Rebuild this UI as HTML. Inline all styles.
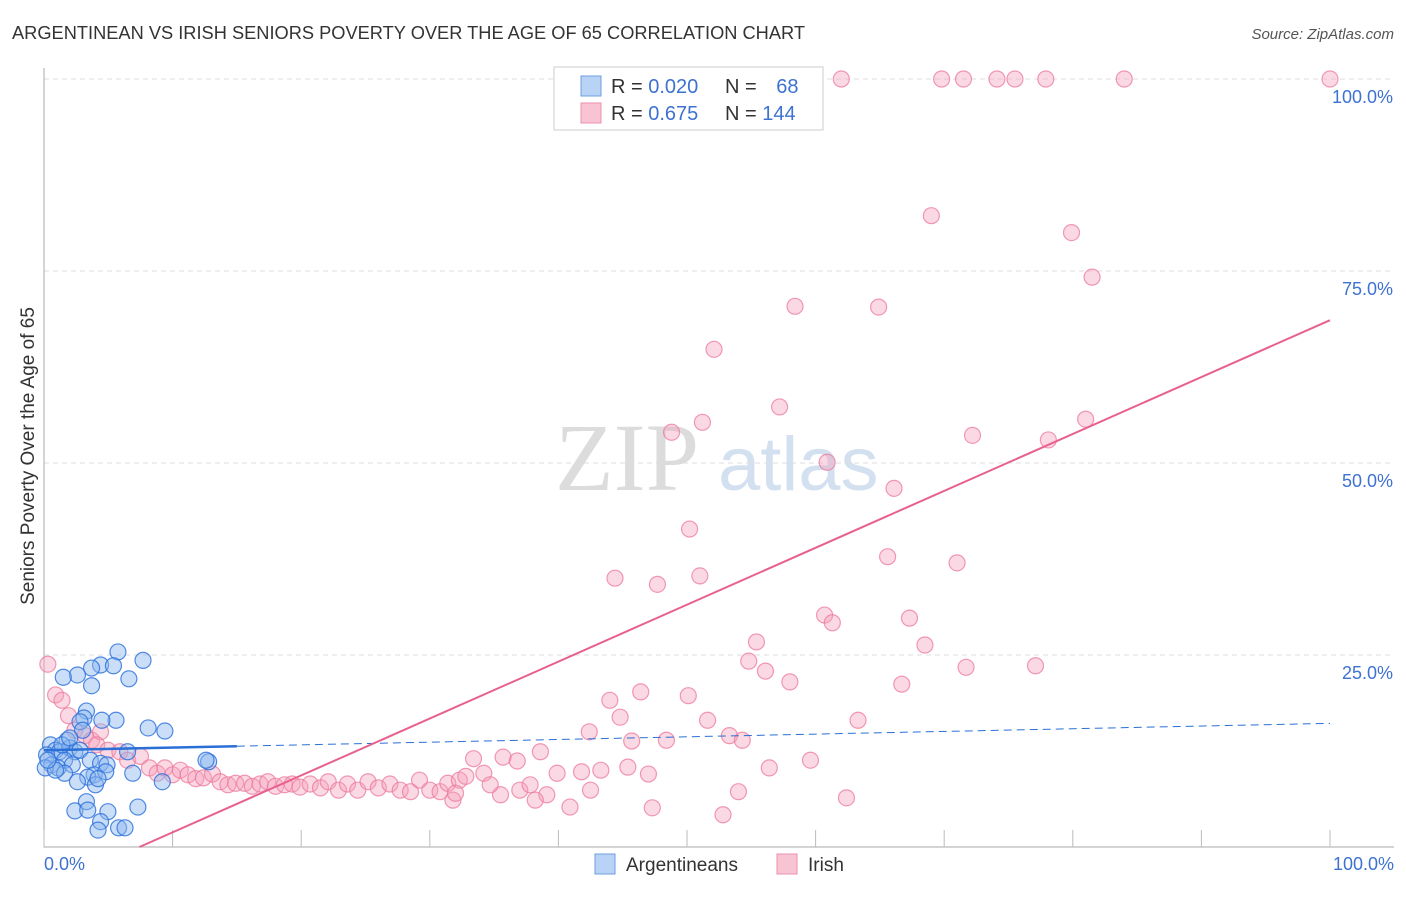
<!DOCTYPE html>
<html><head><meta charset="utf-8"><style>
body{margin:0;background:#fff;font-family:"Liberation Sans",sans-serif;}
</style></head><body>
<svg width="1406" height="892" viewBox="0 0 1406 892" xmlns="http://www.w3.org/2000/svg" font-family="Liberation Sans, sans-serif">
<text x="12" y="39" font-size="18" fill="#333" textLength="793" lengthAdjust="spacingAndGlyphs">ARGENTINEAN VS IRISH SENIORS POVERTY OVER THE AGE OF 65 CORRELATION CHART</text>
<text x="1394" y="39" font-size="15" fill="#555" font-style="italic" text-anchor="end">Source: ZipAtlas.com</text>
<text x="555" y="490" font-size="96" fill="#dcdcdc" font-family="Liberation Serif, serif">ZIP</text>
<text x="718" y="490" font-size="76" fill="#d3e0f0">atlas</text>
<g id="grid"></g><g id="axes"></g><g id="pts"></g><g id="lines"></g>
<text transform="translate(34,456) rotate(-90)" font-size="19" fill="#333" text-anchor="middle">Seniors Poverty Over the Age of 65</text>
<g>
<rect x="554" y="67" width="269" height="63" fill="#fff" stroke="#ccc"/>
<rect x="581" y="76" width="20" height="20" fill="#b8d3f5" stroke="#6d9fe0"/>
<rect x="581" y="103" width="20" height="20" fill="#f8c4d4" stroke="#ec8fab"/>
<text x="611" y="93" font-size="20" fill="#333">R = <tspan fill="#3d72d1">0.020</tspan></text>
<text x="725" y="93" font-size="20" fill="#333">N = <tspan fill="#3d72d1" dx="14">68</tspan></text>
<text x="611" y="120" font-size="20" fill="#333">R = <tspan fill="#3d72d1">0.675</tspan></text>
<text x="725" y="120" font-size="20" fill="#333">N = <tspan fill="#3d72d1">144</tspan></text>
</g>
<g>
<rect x="595" y="854" width="20" height="20" fill="#b8d3f5" stroke="#6d9fe0"/>
<text x="626" y="871" font-size="19" fill="#333">Argentineans</text>
<rect x="777" y="854" width="20" height="20" fill="#f8c4d4" stroke="#ec8fab"/>
<text x="808" y="871" font-size="19" fill="#333">Irish</text>
</g>
</svg>
<script>
const yTicks=[25,50,75,100];
const yTickLabels=["25.0%","50.0%","75.0%","100.0%"];
const blueX=[5.75,7.7,4.4,5.4,3.7,2.6,1.5,6.6,3.7,3.3,3.1,5.6,4.5,2.8,8.1,9.4,3.0,1.8,0.5,0.9,1.2,0.2,2.0,2.4,2.8,1.6,0.6,1.1,0.1,2.2,3.6,4.4,6.5,4.9,12.8,12.6,1.6,3.9,6.9,4.8,3.4,4.0,9.2,2.6,4.2,3.3,7.3,2.4,3.4,4.97,4.4,4.2,5.8,6.3,0.9,0.3,1.4,2.0];
const blueY=[25.4,24.3,23.7,23.6,23.3,22.4,22.1,21.9,21.0,17.7,16.8,16.5,16.5,16.3,15.5,15.1,15.2,13.9,13.3,12.6,12.4,12.0,12.9,12.4,12.6,11.3,10.7,10.3,10.3,10.7,11.3,10.9,12.4,10.7,11.1,11.3,9.6,9.4,9.6,9.8,9.1,8.1,8.5,8.5,8.9,5.9,5.2,4.7,4.8,4.6,3.3,2.2,2.5,2.5,10.0,11.3,13.3,14.2];
const pinkX=[62,69.8,71.5,74.1,75.5,77.9,84,100,69,79.9,81.5,58.4,64.9,52.1,57.2,51.2,48.8,72.2,81,78.1,60.9,66.1,50.2,65.6,71,44.4,51,47.7,60.7,61.3,67.3,55.4,68.5,54.8,56.1,71.7,77.1,58,66.7,46.4,50.1,44,44.8,63.3,51.6,48.4,45.7,42.4,53.3,54.3,38.6,33.4,35.7,36.8,59.6,56.4,45.4,43.3,47,39.9,41.8,54,47.3,52.8,62.4,40.9,42.5,39.1,38.2,31.8,35.5,
0.3,0.9,1.4,1.9,2.4,3.2,3.7,4.4,4.1,4.97,5.9,6.5,7.5,8.2,8.8,9.4,10,10.6,11.2,11.8,12.4,13.1,13.7,14.3,14.9,15.6,16.2,16.8,17.4,18.0,18.7,19.3,19.9,20.7,21.5,22.1,22.9,23.6,24.4,25.2,26.0,26.9,27.7,28.5,29.2,30.0,30.8,31.4,32.3,32.8,34.2,34.7,37,37.8,32];
const pinkY=[100,100,100,100,100,100,100,100,82.2,80,74.2,70.4,70.3,64.8,57.3,55.3,54.0,53.6,55.7,53.0,50.1,46.7,41.4,37.8,37.0,35.0,35.3,34.2,30.2,29.2,29.8,26.7,26.3,24.2,22.9,23.4,23.6,21.5,21.2,20.2,19.7,19.1,16.9,16.5,16.5,13.9,13.8,15.0,14.5,13.9,12.4,11.5,11.7,11.2,11.3,10.3,10.4,10.0,9.5,9.6,9.8,7.2,5.1,4.2,6.4,5.2,7.4,6.8,6.1,6.1,6.8,
23.8,19.8,19.1,17.1,15.2,14.5,13.9,15.0,13.3,12.6,12.4,11.3,11.8,10.3,9.6,10.3,9.4,10.0,9.4,8.9,9.0,9.5,8.5,8.1,8.3,8.3,7.9,8.2,8.5,7.9,8.1,8.2,7.8,8.2,7.7,8.5,7.4,8.2,7.4,8.5,7.7,8.2,7.4,7.2,8.7,7.4,7.2,8.3,8.7,9.2,9.6,8.1,7.4,8.1,7.0];
const blueTrend=[12.6,16.1];
const pinkTrend=[-5.5,68.6];
const X=v=>44+v*12.86, Y=v=>847-v*7.68;
const NS="http://www.w3.org/2000/svg";
function mk(par,tag,at){const e=document.createElementNS(NS,tag);for(const k in at)e.setAttribute(k,at[k]);document.getElementById(par).appendChild(e);return e;}
yTicks.forEach((t,i)=>{
 const g=mk('grid','line',{x1:44,x2:1394,y1:Y(t),y2:Y(t),stroke:'#ddd','stroke-dasharray':'5,4'});
 
 
 const l=mk('axes','text',{x:1393,y:Y(t)+24,'font-size':18,fill:'#3d72d1','text-anchor':'end'});
 l.textContent=yTickLabels[i];
 
 
});
const ax=mk('axes','path',{d:'M44 68V847H1394',stroke:'#aaa',fill:'none'});


for(let i=0;i<=10;i++){const t=mk('axes','line',{x1:X(i*10),x2:X(i*10),y1:830,y2:847,stroke:'#bbb'});
 
 }
[[0,"0.0%",'start',44],[100,"100.0%",'end',1394]].forEach(a=>{const t=mk('axes','text',{x:a[3],y:870,'font-size':18,fill:'#3d72d1','text-anchor':a[2]});t.textContent=a[1];
 
 });
pinkX.forEach((x,i)=>{const c=mk('pts','circle',{cx:X(x),cy:Y(pinkY[i]),r:8,fill:'rgba(244,160,188,0.4)',stroke:'rgba(236,120,155,0.75)','stroke-width':1.2});
 
 });
blueX.forEach((x,i)=>{const c=mk('pts','circle',{cx:X(x),cy:Y(blueY[i]),r:8,fill:'rgba(140,182,238,0.45)',stroke:'rgba(40,110,220,0.8)','stroke-width':1.2});
 
 });
const bAt=x=>blueTrend[0]+(blueTrend[1]-blueTrend[0])*x/100;
const b1=mk('lines','line',{x1:X(0),y1:Y(bAt(0)),x2:X(15),y2:Y(bAt(15)),stroke:'#2a6fd6','stroke-width':2.5});


const b2=mk('lines','line',{x1:X(15),y1:Y(bAt(15)),x2:X(100),y2:Y(bAt(100)),stroke:'#2a6fd6','stroke-width':1,'stroke-dasharray':'8,5'});


const x0=-pinkTrend[0]/(pinkTrend[1]-pinkTrend[0])*100;
const pAt=x=>pinkTrend[0]+(pinkTrend[1]-pinkTrend[0])*x/100;
const p=mk('lines','line',{x1:X(x0),y1:Y(pAt(x0)),x2:X(100),y2:Y(pAt(100)),stroke:'#e8608e','stroke-width':2});


</script>
</body></html>
